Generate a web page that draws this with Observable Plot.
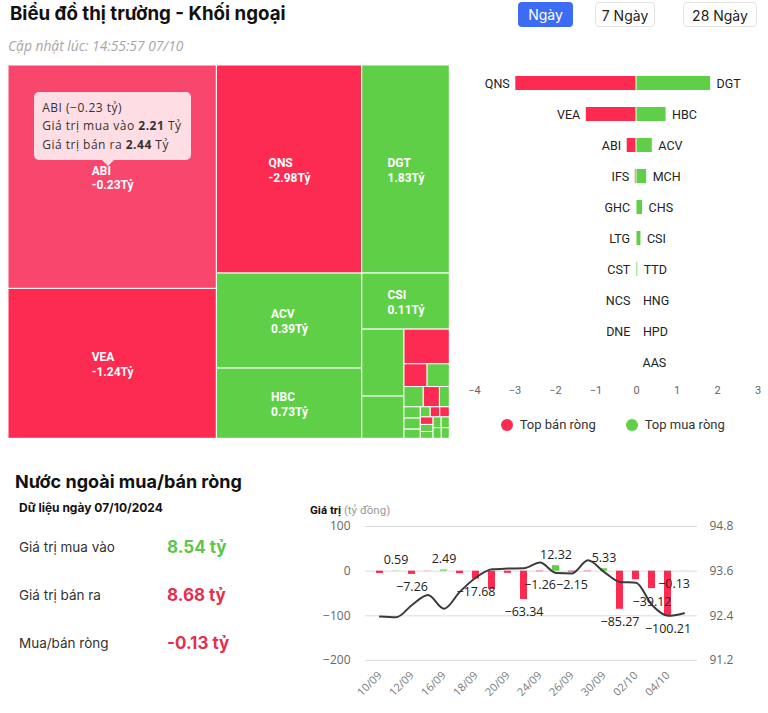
<!DOCTYPE html>
<html lang="vi"><head><meta charset="utf-8">
<script src="https://cdn.jsdelivr.net/npm/d3@7"></script>
<script src="https://cdn.jsdelivr.net/npm/@observablehq/plot@0.6"></script>
<style>
html,body{margin:0;padding:0;background:#fff;}
#page{position:relative;width:768px;height:713px;overflow:hidden;font-family:Roboto,"Liberation Sans",Arial,sans-serif;color:#1a1a1a;}
.a{position:absolute;white-space:nowrap;}
.btn{position:absolute;height:25px;line-height:25px;text-align:center;font-size:14px;border-radius:4px;box-sizing:border-box;font-family:Inter,Roboto,sans-serif;}
.plot{position:absolute;}
</style></head><body><div id="page"></div>
<script>
// ---------- DATA ----------
const pageTitle = "Biểu đồ thị trường - Khối ngoại";
const buttons = ["Ngày", "7 Ngày", "28 Ngày"];
const updated = "Cập nhật lúc: 14:55:57 07/10";

// Treemap (size = total traded value, net = net value, tỷ); group = nesting path
const tmNames = ["ABI","VEA","QNS","DGT","ACV","HBC","CSI","MCH","CHS","IFS","GHC","TTD","HNG","LTG","HPD","","AAS","","","CST","NCS","DNE","","","","","",""];
const tmSize  = [4.65,3.12,3.02,1.82,1.38,1.02,0.49,0.282,0.178,0.157,0.0525,0.0505,0.039,0.0327,0.02,0.0184,0.018,0.015,0.01,0.0097,0.0096,0.0096,0.009,0.0087,0.0087,0.0087,0.0087,0.0085];
const tmNet   = [-0.23,-1.24,-2.98,1.83,0.39,0.73,0.11,0.25,0.15,-0.03,-0.01,0.03,0.01,-0.01,0.01,0,0,0,0,-0.005,-0.004,-0.003,0,0,0,0,0,0];
const tmGroup = ["","","","","","","","G/A","G/A","G/B","G/B","G/B","G/B","G/B","G/B","G/B","G/B","G/B","G/B","G/B","G/B","G/B","G/B","G/B","G/B","G/B","G/B","G/B"];
const hovered = "ABI", hoveredBuy = 2.21, hoveredSell = 2.44;

// Top net sell / net buy
const sellNames  = ["QNS","VEA","ABI","IFS","GHC","LTG","CST","NCS","DNE"];
const sellValues = [-2.98,-1.24,-0.23,-0.03,-0.01,-0.01,-0.005,-0.004,-0.003];
const buyNames   = ["DGT","HBC","ACV","MCH","CHS","CSI","TTD","HNG","HPD","AAS"];
const buyValues  = [1.83,0.73,0.39,0.25,0.15,0.11,0.03,0.01,0.01,0];
const barTicks   = [-4,-3,-2,-1,0,1,2,3];
const legendLabels = ["Top bán ròng","Top mua ròng"];

// Summary
const summaryTitle  = "Nước ngoài mua/bán ròng";
const summaryDate   = "Dữ liệu ngày 07/10/2024";
const summaryLabels = ["Giá trị mua vào","Giá trị bán ra","Mua/bán ròng"];
const summaryValues = [8.54, 8.68, -0.13];

// Daily net (tỷ đồng) and index line
const dates = ["10/09","11/09","12/09","13/09","16/09","17/09","18/09","19/09","20/09","23/09","24/09","25/09","26/09","27/09","30/09","01/10","02/10","03/10","04/10","07/10"];
const dailyNet = [-5.1,0.59,-7.26,-0.4,2.49,-5.6,-17.68,-40.7,-4.8,-63.34,-1.26,12.32,-2.15,-1.1,5.33,-85.27,-19,-39.12,-100.21,-0.13];
const labeledDates = ["11/09","12/09","16/09","18/09","23/09","24/09","25/09","26/09","30/09","01/10","03/10","04/10","07/10"];
const indexValues = [92.38,92.36,92.69,92.96,92.59,93.05,93.43,93.65,93.67,93.68,93.83,93.55,93.54,93.89,93.58,93.31,93.29,92.69,92.40,92.47];
const leftTicks  = [-200,-100,0,100];
const rightTicks = [91.2,92.4,93.6,94.8];
const axisTitle = "Giá trị", axisUnit = "(tỷ đồng)";

// ---------- STYLE ----------
const RED = "#fd2a51", RED_HOVER = "#f8466c", GREEN = "#5fcf47";
const page = document.getElementById("page");
function div(html, style, cls="a"){ const d=document.createElement("div"); d.className=cls; d.style.cssText=style; d.innerHTML=html; page.appendChild(d); return d; }
function place(svg, left, top){ svg.classList.add("plot"); svg.style.left=left+"px"; svg.style.top=top+"px"; page.appendChild(svg); }

// ---------- HEADER ----------
div(pageTitle, "left:10px;top:3px;font-family:Inter,Roboto,sans-serif;font-size:18.7px;font-weight:700;line-height:22px;color:#111;");
const btnX=[518,595,683], btnW=[55,60,74];
buttons.forEach((b,i)=>div(b, `left:${btnX[i]}px;top:2px;width:${btnW[i]}px;` + (i===0?"background:#3d6cf4;color:#fff;":"border:1px solid #e2e2e2;color:#222;background:#fff;"), "btn"));
div(updated, "left:8px;top:38px;font-family:'Open Sans',sans-serif;font-size:13.8px;font-style:italic;color:#a6a6a6;line-height:16px;");

// ---------- TREEMAP ----------
const TW = 441.3, TH = 373.3;
const items = tmNames.map((n,i)=>({name:n, size:tmSize[i], net:tmNet[i], path: tmGroup[i] ? tmGroup[i].split("/") : []}));
function nest(list, depth){
  const out=[], seen=new Map();
  list.forEach(it=>{
    const key = it.path[depth];
    if (key===undefined) { out.push(it); return; }
    if (!seen.has(key)) { const g={grp:[]}; seen.set(key,g); out.push(g); }
    seen.get(key).grp.push(it);
  });
  return out.map(o=>o.grp ? {children: nest(o.grp, depth+1)} : o);
}
const root = d3.hierarchy({children: nest(items, 0)}).sum(d=>d.children?0:(d.size||0));
d3.treemap().size([TW,TH]).tile(d3.treemapSquarify.ratio(1.35))(root);
const cells = root.leaves().map(l=>({name:l.data.name, net:l.data.net, x0:l.x0, x1:l.x1, y0:l.y0, y1:l.y1}));
const ctx = document.createElement("canvas").getContext("2d");
ctx.font = "bold 12px Roboto";
const fmtT = v => v.toFixed(2) + "Tỷ";
const big = cells.filter(c=>c.x1-c.x0>=60 && c.y1-c.y0>=45).map(c=>{
  const w = Math.max(ctx.measureText(c.name).width, ctx.measureText(fmtT(c.net)).width);
  return {...c, lx:(c.x0+c.x1)/2 - w/2, ly:(c.y0+c.y1)/2, label:c.name+"\n"+fmtT(c.net)};
});
const tm = Plot.plot({
  width:TW, height:TH, margin:0,
  x:{domain:[0,TW], range:[0,TW], axis:null},
  y:{domain:[0,TH], range:[0,TH], axis:null},
  color:{type:"identity"},
  style:{background:"transparent", fontFamily:"Roboto"},
  marks:[
    Plot.rect(cells, {x1:"x0", x2:"x1", y1:"y0", y2:"y1", fill:d=>d.name===hovered?RED_HOVER:(d.net<0?RED:GREEN), stroke:"#fff", strokeWidth:1}),
    Plot.text(big, {x:"lx", y:"ly", text:"label", textAnchor:"start", lineAnchor:"middle", lineHeight:1.25, fill:"#fff", fontWeight:"bold", fontSize:12})
  ]
});
place(tm, 8, 65);

// tooltip for hovered cell
const hv = cells.find(c=>c.name===hovered);
const tipW=157, tipH=68;
const tipCx = (hv.x0+hv.x1)/2 + 4;
div(`${hovered} (${(hoveredBuy-hoveredSell).toFixed(2).replace("-","−")} tỷ)<br>Giá trị mua vào <b>${hoveredBuy.toFixed(2)}</b> Tỷ<br>Giá trị bán ra <b>${hoveredSell.toFixed(2)}</b> Tỷ`,
  `left:${tipCx-74}px;top:92px;width:${tipW}px;height:${tipH}px;box-sizing:border-box;padding:7px 8px;background:rgba(255,255,255,0.82);border-radius:5px;font-family:'Open Sans',sans-serif;font-size:12px;letter-spacing:0.5px;line-height:18.3px;color:#333;`);
div("", `left:${tipCx-6}px;top:160px;width:0;height:0;border-left:6px solid transparent;border-right:6px solid transparent;border-top:6px solid rgba(255,255,255,0.82);`);

// ---------- TOP SELL / BUY BARS ----------
const sellRows = sellNames.map((n,i)=>({name:n, v:sellValues[i], i}));
const buyRows  = buyNames.map((n,i)=>({name:n, v:buyValues[i], i}));
const bars = Plot.plot({
  width:308, height:345, marginTop:8.4, marginBottom:28.3, marginLeft:14, marginRight:10.5,
  x:{domain:[-4,3], axis:null},
  y:{type:"band", domain:d3.range(10), paddingInner:0.55, paddingOuter:0.2, axis:null},
  style:{background:"transparent", fontFamily:"Roboto", fontSize:"11px", color:"#666"},
  marks:[
    Plot.barX(sellRows, {x1:0, x2:"v", y:"i", fill:RED, insetRight:0.5}),
    Plot.barX(buyRows, {x1:0, x2:"v", y:"i", fill:GREEN, insetLeft:0.5}),
    Plot.text(sellRows, {x:"v", y:"i", text:"name", textAnchor:"end", dx:-6, fill:"#222", fontSize:12.5}),
    Plot.text(buyRows, {x:"v", y:"i", text:"name", textAnchor:"start", dx:6, fill:"#222", fontSize:12.5}),
    Plot.axisX(barTicks, {tickSize:0, tickPadding:9, fontSize:11, fill:"#666", label:null})
  ]
});
place(bars, 460, 60);
// legend
[RED, GREEN].forEach((c,i)=>{
  const lx = [500.7, 625.7][i];
  div("", `left:${lx}px;top:419px;width:12px;height:12px;border-radius:50%;background:${c};`);
  div(legendLabels[i], `left:${lx+19}px;top:416px;font-size:13px;line-height:18px;color:#333;`);
});

// ---------- SUMMARY ----------
div(summaryTitle, "left:15px;top:471px;font-family:Inter,Roboto,sans-serif;font-size:18px;font-weight:700;line-height:22px;color:#111;");
div(summaryDate, "left:19px;top:500px;font-family:Inter,Roboto,sans-serif;font-size:12px;font-weight:700;line-height:16px;color:#111;");
summaryLabels.forEach((l,i)=>{
  const y = 547 + i*48;
  div(l, `left:19px;top:${y-9}px;font-family:Inter,Roboto,sans-serif;font-size:13.5px;line-height:18px;color:#333;`);
  const v = summaryValues[i];
  const col = i===0 ? "#5fc44b" : "#e3304f";
  div(v.toFixed(2)+" tỷ", `left:167px;top:${y-11}px;font-family:Inter,Roboto,sans-serif;font-size:17px;font-weight:700;line-height:22px;color:${col};`);
});

// ---------- DAILY CHART ----------
const toLeft = d3.scaleLinear().domain([rightTicks[0], rightTicks[rightTicks.length-1]]).range([leftTicks[0], leftTicks[leftTicks.length-1]]);
const daily = dates.map((d,i)=>({date:d, v:dailyNet[i], idx:indexValues[i]}));
const lab = daily.filter(d=>labeledDates.includes(d.date));
const lastDate = dates[dates.length-1];
const labPos = lab.filter(d=>d.v>=0 && d.date!==lastDate);
const labNeg = lab.filter(d=>d.v<0 && d.date!==lastDate);
const labEdge = lab.filter(d=>d.date===lastDate);
const fmtN = v => v.toFixed(2).replace("-","−");
div(`<b style="color:#111">${axisTitle}</b> <span style="color:#999">${axisUnit}</span>`, "left:310px;top:502px;font-size:11.5px;line-height:16px;");
const dc = Plot.plot({
  width:468, height:223, marginTop:36, marginBottom:53, marginLeft:65, marginRight:71,
  x:{type:"band", domain:dates, paddingInner:0.58, paddingOuter:0.29, axis:null},
  y:{domain:[leftTicks[0], leftTicks[leftTicks.length-1]], axis:null},
  style:{background:"transparent", fontFamily:"'Open Sans'", fontSize:"12px", color:"#666"},
  marks:[
    Plot.gridY(leftTicks, {stroke:"#dcdcdc", strokeOpacity:1}),
    Plot.axisY(leftTicks, {anchor:"left", tickSize:0, tickPadding:15, fontSize:12, fill:"#666", label:null}),
    Plot.axisY(leftTicks, {anchor:"right", tickSize:0, tickPadding:12, fontSize:12, fill:"#666", label:null, tickFormat:d=>toLeft.invert(d).toFixed(1)}),
    Plot.axisX(dates.filter((d,i)=>i%2===0), {tickRotate:-45, tickSize:0, tickPadding:13, fontSize:11, fill:"#777", label:null}),
    Plot.barY(daily, {x:"date", y1:0, y2:"v", fill:d=>d.v<0?RED:GREEN}),
    Plot.line(daily, {x:"date", y:d=>toLeft(d.idx), curve:"monotone-x", stroke:"#3b3b3b", strokeWidth:2}),
    Plot.text(labPos, {x:"date", y:"v", text:d=>fmtN(d.v), dy:-11, fill:"#222", fontSize:12.5}),
    Plot.text(labNeg, {x:"date", y:"v", text:d=>fmtN(d.v), dy:13, fill:"#222", fontSize:12.5}),
    Plot.text(labEdge, {x:"date", y:"v", text:d=>fmtN(d.v), dy:13, dx:6, textAnchor:"end", fill:"#222", fontSize:12.5})
  ]
});
place(dc, 300, 490);
</script></body></html>
